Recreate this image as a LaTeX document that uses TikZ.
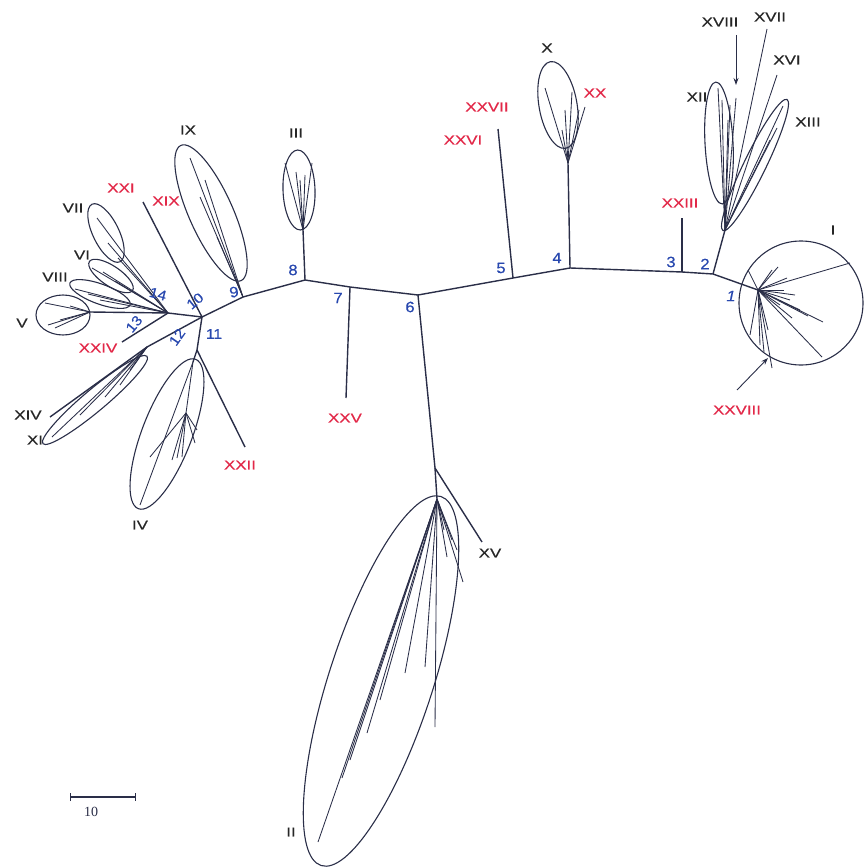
\documentclass[tikz,border=0pt]{standalone}
\usepackage{fontspec}
\setmainfont{Liberation Sans}
\newfontfamily\labfont[FakeStretch=1.3,FakeBold=0.6]{Liberation Sans}
\newfontfamily\numfont[FakeStretch=1.1,FakeBold=0.5]{Liberation Sans}
\newfontfamily\barfont{Liberation Serif}
\usetikzlibrary{arrows.meta}
\definecolor{ln}{RGB}{42,46,72}
\definecolor{rd}{RGB}{226,40,72}
\definecolor{bl}{RGB}{40,72,175}
\begin{document}
\begin{tikzpicture}[x=1pt,y=-1pt,
  br/.style={ln, line width=1.4pt},
  tw/.style={ln, line width=0.85pt},
  cl/.style={draw=ln, line width=1.1pt},
  blklab/.style={text=black!85, font=\labfont\fontsize{13}{15}\selectfont, inner sep=0pt},
  redlab/.style={text=rd, font=\labfont\fontsize{13}{15}\selectfont, inner sep=0pt},
  numlab/.style={text=bl, font=\numfont\fontsize{15}{17}\selectfont, inner sep=0pt},
  smnum/.style={text=bl, font=\numfont\fontsize{14}{16}\selectfont, inner sep=0pt}]
\useasboundingbox (0,0) rectangle (865,867);
% backbone junctions
\coordinate (n1) at (758,290);
\coordinate (n2) at (713,274);
\coordinate (n3) at (682,272);
\coordinate (n4) at (570,268);
\coordinate (n5) at (513,278);
\coordinate (n6) at (418,295);
\coordinate (n7) at (350,287);
\coordinate (n8) at (305,280);
\coordinate (n9) at (243,297);
\coordinate (n10) at (202,317);
\coordinate (j14) at (168,313);
\coordinate (n11) at (197,350);
\coordinate (p12) at (147,347);
% inner junctions and free ends
\coordinate (e23) at (682,218);
\coordinate (p4) at (568,163);
\coordinate (e26) at (498,129);
\coordinate (p8) at (303,230);
\coordinate (e25) at (346,398);
\coordinate (p6) at (435,468);
\coordinate (e15) at (482,542);
\coordinate (t2) at (437,499);
\coordinate (q2) at (725,230);
\coordinate (e21) at (143,202);
\coordinate (e24) at (122,342);
\coordinate (e22) at (245,447);
\coordinate (p11) at (193,362);
\coordinate (p4b) at (186,413);
\coordinate (pV) at (90,312);
\coordinate (e14) at (50,417);
\coordinate (a28) at (737,390);
\coordinate (b28) at (768,358);
\coordinate (a18) at (736,35);
\coordinate (b18) at (736,85);
\coordinate (s1) at (70,797);
\coordinate (s2) at (136,797);
% backbone
\draw[br] (n1) -- (n2) -- (n3) -- (n4) -- (n5) -- (n6) -- (n7) -- (n8) -- (n9) -- (n10);
\draw[br] (n10) -- (j14);
\draw[br] (n10) -- (n11);
\draw[br] (n10) -- (p12);
% single branches
\draw[br] (n3) -- (e23);
\draw[br] (n4) -- (p4);
\draw[br] (n5) -- (e26);
\draw[br] (n8) -- (p8);
\draw[br] (n7) -- (e25);
\draw[br] (n6) -- (p6);
\draw[br] (p6) -- (e15);
\draw[br] (p6) -- (t2);
\draw[br] (n2) -- (q2);
\draw[br] (n10) -- (e21);
\draw[br] (j14) -- (e24);
\draw[br] (n11) -- (e22);
\draw[br] (n11) -- (p11);
\draw[br] (j14) -- (pV);
\draw[br] (p12) -- (e14);
% fans
\foreach \p in {(850,263),(822,357),(823,322),(750,335),(772,368),(764,352),(778,267),(772,270),(787,278),(748,270),(790,300),(800,310),(808,316),(795,295),(784,290),(760,345),(768,330),(780,305),(792,318)}
  \draw[tw] (n1) -- \p;
\foreach \p in {(767,29),(777,75),(783,106),(777,128),(770,140),(718,88),(722,100),(730,105),(736,98),(728,120)}
  \draw[tw] (q2) -- \p;
\foreach \p in {(545,88),(572,92),(565,110),(562,130),(585,107),(579,110)}
  \draw[tw] (p4) -- \p;
\foreach \p in {(285,163),(312,163),(300,180),(296,172),(305,175)}
  \draw[tw] (p8) -- \p;
\foreach \p in {(318,842),(342,778),(350,760),(367,733),(380,700),(405,673),(425,667),(435,727),(447,557),(457,550),(463,582),(452,540),(444,530)}
  \draw[tw] (t2) -- \p;
\foreach \p in {(190,158),(200,197),(217,237),(205,180)}
  \draw[tw] (n9) -- \p;
\foreach \p in {(97,218),(108,243),(118,258),(92,268),(103,272),(115,281),(75,289),(88,294),(100,300)}
  \draw[tw] (j14) -- \p;
\foreach \p in {(45,303),(48,325),(60,320),(55,328),(70,306)}
  \draw[tw] (pV) -- \p;
\foreach \p in {(52,437),(80,415),(105,397),(120,385),(130,370)}
  \draw[tw] (p12) -- \p;
\draw[tw] (p11) -- (p4b);
\draw[tw] (p11) -- (140,505);
\foreach \p in {(150,457),(172,460),(177,458),(182,457),(197,430),(195,443)}
  \draw[tw] (p4b) -- \p;
% arrows
\draw[ln, line width=0.9pt, -{Stealth[length=7pt,width=5pt]}] (a28) -- (b28);
\draw[ln, line width=0.9pt, -{Stealth[length=7pt,width=5pt]}] (a18) -- (b18);
% clade ellipses
\draw[cl] (801,303) circle [radius=62pt];
\draw[cl, rotate around={72:(381,681)}] (381,681) ellipse [x radius=194pt, y radius=52pt];
\draw[cl, rotate around={92:(299,190)}] (299,190) ellipse [x radius=40pt, y radius=16pt];
\draw[cl, rotate around={69:(167,434)}] (167,434) ellipse [x radius=80pt, y radius=25pt];
\draw[cl] (63,315) ellipse [x radius=27pt, y radius=20pt];
\draw[cl, rotate around={146:(111,276)}] (111,276) ellipse [x radius=26pt, y radius=10pt];
\draw[cl, rotate around={116:(106,233)}] (106,233) ellipse [x radius=32pt, y radius=13pt];
\draw[cl, rotate around={160:(100,294)}] (100,294) ellipse [x radius=32pt, y radius=10pt];
\draw[cl, rotate around={114:(211,213)}] (211,213) ellipse [x radius=74pt, y radius=22pt];
\draw[cl, rotate around={100:(558,105)}] (558,105) ellipse [x radius=44pt, y radius=19pt];
\draw[cl, rotate around={40:(95,400)}] (95,400) ellipse [x radius=68pt, y radius=11pt];
\draw[cl, rotate around={93:(719,143)}] (719,143) ellipse [x radius=61pt, y radius=14pt];
\draw[cl, rotate around={64:(755,165)}] (755,165) ellipse [x radius=73pt, y radius=11pt];
% scale bar
\draw[ln, line width=1.1pt, {Bar[width=8pt]}-{Bar[width=8pt]}] (s1) -- (s2);
\node[text=ln, font=\barfont\fontsize{14}{16}\selectfont, inner sep=0pt] (sb) at (91,812) {10};
% black labels
\node[blklab] (lI) at (833,230) {I};
\node[blklab] (lII) at (291,832) {II};
\node[blklab] (lIII) at (296,133) {III};
\node[blklab] (lIV) at (140,525) {IV};
\node[blklab] (lV) at (22,323) {V};
\node[blklab] (lVI) at (82,255) {VI};
\node[blklab] (lVII) at (73,208) {VII};
\node[blklab] (lVIII) at (55,277) {VIII};
\node[blklab] (lIX) at (188,130) {IX};
\node[blklab] (lX) at (547,48) {X};
\node[blklab] (lXI) at (35,440) {XI};
\node[blklab] (lXII) at (697,97) {XII};
\node[blklab] (lXIII) at (808,122) {XIII};
\node[blklab] (lXIV) at (28,415) {XIV};
\node[blklab] (lXV) at (490,553) {XV};
\node[blklab] (lXVI) at (787,60) {XVI};
\node[blklab] (lXVII) at (770,17) {XVII};
\node[blklab] (lXVIII) at (720,22) {XVIII};
% red labels
\node[redlab] (lXIX) at (166,201) {XIX};
\node[redlab] (lXX) at (595,93) {XX};
\node[redlab] (lXXI) at (121,188) {XXI};
\node[redlab] (lXXII) at (240,465) {XXII};
\node[redlab] (lXXIII) at (680,203) {XXIII};
\node[redlab] (lXXIV) at (98,348) {XXIV};
\node[redlab] (lXXV) at (345,418) {XXV};
\node[redlab] (lXXVI) at (463,140) {XXVI};
\node[redlab] (lXXVII) at (487,107) {XXVII};
\node[redlab] (lXXVIII) at (737,410) {XXVIII};
% node numbers
\node[numlab, font=\numfont\itshape\fontsize{15}{17}\selectfont] (k1) at (731,296) {1};
\node[numlab] (k2) at (705,264) {2};
\node[numlab] (k3) at (671,262) {3};
\node[numlab] (k4) at (557,258) {4};
\node[numlab] (k5) at (501,268) {5};
\node[numlab] (k6) at (410,307) {6};
\node[numlab] (k7) at (338,298) {7};
\node[numlab] (k8) at (293,270) {8};
\node[numlab, rotate=10] (k9) at (234,292) {9};
\node[smnum, rotate=40] (k10) at (195,301) {10};
\node[smnum] (k11) at (214,334) {11};
\node[smnum, rotate=55] (k12) at (177,337) {12};
\node[smnum, rotate=50] (k13) at (134,324) {13};
\node[smnum, rotate=-15] (k14) at (158,294) {14};
\end{tikzpicture}
\end{document}
